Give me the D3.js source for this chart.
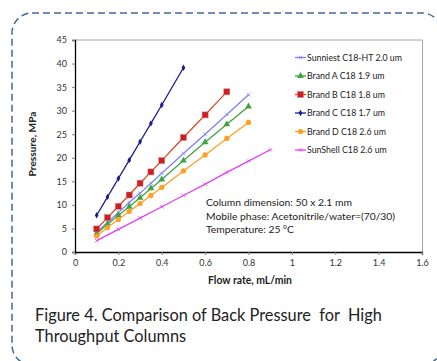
<!DOCTYPE html>
<html>
<head>
<meta charset="utf-8">
<script src="https://cdn.jsdelivr.net/npm/d3@7"></script>
<style>
  body { margin: 0; background: #fff; }
  svg { display: block; font-family: Lato, "Open Sans", sans-serif; }
</style>
</head>
<body>
<div id="chart"></div>
<script>
// flow rates (mL/min)
const flowMain = [0.1, 0.15, 0.2, 0.25, 0.3, 0.35, 0.4, 0.5, 0.6, 0.7, 0.8];
const flowC = [0.1, 0.15, 0.2, 0.25, 0.3, 0.35, 0.4, 0.5];
const flowB = [0.1, 0.15, 0.2, 0.25, 0.3, 0.35, 0.4, 0.5, 0.6, 0.7];
const flowShell = [0.1, 0.2, 0.3, 0.4, 0.5, 0.6, 0.7, 0.8, 0.9];

// pressures (MPa)
const sunniest = [4.2, 6.3, 8.4, 10.5, 12.5, 14.6, 16.7, 20.9, 25.0, 29.2, 33.4];
const brandA = [3.9, 5.9, 7.8, 9.6, 11.5, 13.5, 15.4, 19.4, 23.3, 27.1, 30.9];
const brandB = [4.9, 7.3, 9.7, 12.1, 14.6, 17.0, 19.4, 24.3, 29.1, 34.0];
const brandC = [7.8, 11.7, 15.6, 19.5, 23.4, 27.3, 31.2, 39.1];
const brandD = [3.4, 5.2, 6.9, 8.6, 10.3, 12.0, 13.7, 17.2, 20.6, 24.1, 27.5];
const sunshell = [2.4, 4.8, 7.2, 9.6, 12.0, 14.4, 16.9, 19.3, 21.7];

const seriesNames = ['Sunniest C18-HT 2.0 um', 'Brand A C18 1.9 um', 'Brand B C18 1.8 um',
  'Brand C C18 1.7 um', 'Brand D C18 2.6 um', 'SunShell C18 2.6 um'];
const xTicks = [0, 0.2, 0.4, 0.6, 0.8, 1, 1.2, 1.4, 1.6];
const yTicks = [0, 5, 10, 15, 20, 25, 30, 35, 40, 45];
const notes = ['Column dimension: 50 x 2.1 mm', 'Mobile phase: Acetonitrile/water=(70/30)'];

const series = [
  { name: seriesNames[0], x: flowMain, y: sunniest, color: '#8080ff', marker: 'x' },
  { name: seriesNames[1], x: flowMain, y: brandA, color: '#3fa33f', marker: 'tri' },
  { name: seriesNames[2], x: flowB, y: brandB, color: '#e0441c', mcolor: '#cc2020', marker: 'sq' },
  { name: seriesNames[3], x: flowC, y: brandC, color: '#1c1c8c', marker: 'dia' },
  { name: seriesNames[4], x: flowMain, y: brandD, color: '#ffa020', marker: 'dot' },
  { name: seriesNames[5], x: flowShell, y: sunshell, color: '#e040f0', marker: 'x' }
];

const W = 437, H = 361;
const svg = d3.select('#chart').append('svg').attr('width', W).attr('height', H);

// scale a text's font size so it spans the wanted width
function fitWidth(sel, want) {
  const fs = +sel.attr('font-size');
  const got = sel.node().getComputedTextLength();
  sel.attr('font-size', (fs * want / got).toFixed(2));
}

// dashed rounded frame
svg.append('rect')
  .attr('x', 12).attr('y', 13).attr('width', 430).attr('height', 352)
  .attr('rx', 20).attr('ry', 20)
  .attr('fill', 'none').attr('stroke', '#41679a').attr('stroke-width', 1.5)
  .attr('stroke-dasharray', '7,4');

const pLeft = 75, pTop = 40, pRight = 422, pBottom = 252;

const x = d3.scaleLinear().domain([0, 1.6]).range([pLeft, pRight]);
const y = d3.scaleLinear().domain([0, 45]).range([pBottom, pTop]);

// plot area border (top/right light gray)
svg.append('path')
  .attr('d', `M${pLeft},${pTop}H${pRight + 0.5}V${pBottom}`)
  .attr('fill', 'none').attr('stroke', '#a6a6a6').attr('stroke-width', 1);

const xAxis = svg.append('g')
  .attr('transform', `translate(0,${pBottom})`)
  .call(d3.axisBottom(x).tickValues(xTicks).tickSize(3).tickPadding(5).tickFormat(d3.format('')));
const yAxis = svg.append('g')
  .attr('transform', `translate(${pLeft},0)`)
  .call(d3.axisLeft(y).tickValues(yTicks).tickSize(3).tickPadding(5));

[xAxis, yAxis].forEach(g => {
  g.select('.domain').attr('stroke', '#000').attr('stroke-width', 1.3);
  g.selectAll('.tick line').attr('stroke', '#808080');
  g.selectAll('.tick text').attr('font-size', 9).attr('fill', '#333').attr('font-family', 'Lato, sans-serif');
});

const xLabel = svg.append('text')
  .attr('x', 250).attr('y', 284).attr('text-anchor', 'middle')
  .attr('font-size', 10).attr('font-weight', 'bold').attr('fill', '#222')
  .text('Flow rate, mL/min');
fitWidth(xLabel, 84);

const yLabel = svg.append('text')
  .attr('transform', 'translate(36,144) rotate(-90)').attr('text-anchor', 'middle')
  .attr('font-size', 10).attr('font-weight', 'bold').attr('fill', '#222')
  .text('Pressure, MPa');
fitWidth(yLabel, 65);

function drawMarker(g, type, cx, cy, color) {
  if (type === 'sq') {
    g.append('rect').attr('x', cx - 3).attr('y', cy - 3).attr('width', 6).attr('height', 6)
      .attr('fill', color).attr('stroke', '#e07080').attr('stroke-width', 0.5);
  } else if (type === 'tri') {
    g.append('path').attr('d', d3.symbol(d3.symbolTriangle, 20)())
      .attr('transform', `translate(${cx},${cy})`).attr('fill', color);
  } else if (type === 'dia') {
    g.append('path').attr('d', d3.symbol(d3.symbolDiamond, 12)())
      .attr('transform', `translate(${cx},${cy})`).attr('fill', color);
  } else if (type === 'dot') {
    g.append('circle').attr('cx', cx).attr('cy', cy).attr('r', 2.6).attr('fill', color);
  } else {
    g.append('path').attr('d', d3.symbol(d3.symbolX, 10)())
      .attr('transform', `translate(${cx},${cy})`).attr('stroke', color).attr('stroke-width', 0.8)
      .attr('fill', 'none');
  }
}

const line = d3.line().x(d => x(d[0])).y(d => y(d[1]));

series.forEach(s => {
  const pts = s.x.map((v, i) => [v, s.y[i]]);
  const g = svg.append('g');
  g.append('path').datum(pts).attr('d', line)
    .attr('fill', 'none').attr('stroke', s.color).attr('stroke-width', 1.3);
  pts.forEach(p => drawMarker(g, s.marker, x(p[0]), y(p[1]), s.mcolor || s.color));
});

// legend
const legend = svg.append('g');
series.forEach((s, i) => {
  const ly = 57.5 + i * 18.5;
  legend.append('line').attr('x1', 295).attr('x2', 306).attr('y1', ly).attr('y2', ly)
    .attr('stroke', s.color).attr('stroke-width', 1.3);
  drawMarker(legend, s.marker, 300.5, ly, s.mcolor || s.color);
  const t = legend.append('text').attr('x', 307).attr('y', ly + 3)
    .attr('font-size', 9).attr('fill', '#222').text(s.name);
  if (i === 0) fitWidth(t, 95);
});
const legendSize = legend.select('text').attr('font-size');
legend.selectAll('text').attr('font-size', legendSize);

// annotation
const note = svg.append('text').attr('font-size', 10).attr('fill', '#222');
const first = note.append('tspan').attr('x', 206).attr('y', 206).text(notes[0]);
const want = 146 / first.node().getComputedTextLength();
note.attr('font-size', (10 * want).toFixed(2));
note.append('tspan').attr('x', 206).attr('y', 219.5).text(notes[1]);
note.append('tspan').attr('x', 206).attr('y', 233).text('Temperature: 25 ');
note.append('tspan').attr('font-size', '0.65em').attr('dy', -4).text('o');
note.append('tspan').attr('dy', 4).text('C');

// caption
const cap1 = svg.append('text').attr('x', 35).attr('y', 321).attr('font-size', 16)
  .attr('fill', '#222').style('white-space', 'pre')
  .text('Figure 4. Comparison of Back Pressure  for  High');
fitWidth(cap1, 347);
svg.append('text').attr('x', 35).attr('y', 342).attr('font-size', cap1.attr('font-size'))
  .attr('fill', '#222').text('Throughput Columns');
</script>
</body>
</html>
